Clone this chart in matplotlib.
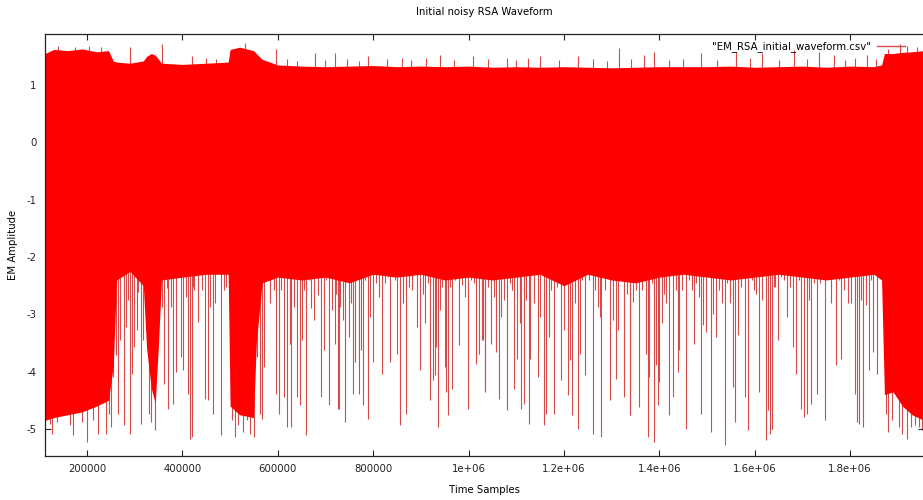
import numpy as np
import matplotlib.pyplot as plt

plt.rcParams['axes.unicode_minus'] = False

# solid part of the waveform: sample position, upper and lower edge
env_x = [111900, 130000, 160000, 190000, 220000, 245000, 255000, 262000, 290000,
         318000, 325000, 335000, 343000, 350000, 356000, 400000, 450000, 496000,
         500000, 520000, 549000, 555000, 567000, 600000, 650000, 700000, 750000,
         800000, 850000, 900000, 950000, 1000000, 1050000, 1100000, 1150000,
         1200000, 1250000, 1300000, 1350000, 1400000, 1450000, 1500000, 1550000,
         1600000, 1650000, 1700000, 1750000, 1800000, 1850000, 1866000, 1872000,
         1890000, 1910000, 1930000, 1955000]
env_top = [1.55, 1.62, 1.60, 1.63, 1.58, 1.60, 1.42, 1.40, 1.38,
           1.42, 1.50, 1.55, 1.52, 1.45, 1.38, 1.36, 1.38, 1.40,
           1.62, 1.66, 1.60, 1.55, 1.45, 1.35, 1.33, 1.32, 1.33,
           1.34, 1.32, 1.33, 1.32, 1.33, 1.31, 1.32, 1.31,
           1.32, 1.31, 1.30, 1.31, 1.32, 1.32, 1.32, 1.33,
           1.31, 1.32, 1.33, 1.31, 1.33, 1.32, 1.35, 1.55,
           1.55, 1.57, 1.58, 1.60]
env_bot = [-4.85, -4.80, -4.75, -4.70, -4.60, -4.50, -3.90, -2.40, -2.25,
           -2.50, -3.60, -4.30, -4.55, -3.50, -2.40, -2.35, -2.30, -2.30,
           -4.60, -4.75, -4.80, -3.50, -2.45, -2.35, -2.40, -2.35, -2.45,
           -2.30, -2.35, -2.30, -2.40, -2.35, -2.40, -2.35, -2.30,
           -2.50, -2.30, -2.40, -2.45, -2.35, -2.30, -2.35, -2.40,
           -2.35, -2.30, -2.35, -2.40, -2.35, -2.30, -2.40, -4.40,
           -4.35, -4.60, -4.75, -4.85]

# downward spikes: sample position and lowest value
spike_x = [122400, 125900, 136400, 146900, 159500, 164400, 171400, 180500, 188800, 194400,
           200700, 206300, 213300, 220300, 222400, 227300, 234300, 239200, 246200, 250400,
           255300, 260200, 265800, 269300, 278400, 281900, 285400, 290300, 295200, 299400,
           304300, 307800, 313400, 318300, 330100, 334300, 339200, 342700, 358100, 362300,
           367200, 370700, 376300, 381200, 386100, 391700, 397300, 402200, 407100, 412700,
           416200, 421100, 425300,
           419700, 423200, 433700, 440700, 447700, 454700, 458200, 463800, 468700, 475700,
           480600, 486200, 491700, 503600, 510600, 517600, 528100, 536500, 542100, 549100,
           556100, 561700, 566600, 571500, 575700, 584100, 591100, 596700, 601600, 606500,
           612100, 619100, 624700, 628200, 634400, 640000, 645600, 650500, 655400, 659600,
           664500, 669400, 676400, 683400, 690400, 696000, 701600, 706500, 713500, 719100,
           722600, 727500,
           726100, 731000, 735900, 740100, 748500, 753400, 756900, 762500, 769500, 775100,
           778600, 783500, 789100, 793900, 798800, 805800, 811400, 818400, 825400, 831000,
           835900, 840800, 846400, 850600, 856900, 861800, 868100, 875800, 881400, 891900,
           898900, 903800, 908000, 915000, 919900, 924800, 929000, 931700, 936000, 940800,
           944300, 949900, 952700, 956900, 961800, 965300, 970900, 979300, 986300, 991900,
           998900, 1005900, 1010800, 1015700, 1021300, 1028300, 1033900,
           1030400, 1034600, 1040200, 1047200, 1052800, 1058400, 1063300, 1068200, 1073800,
           1080800, 1086400, 1091300, 1096200, 1101700, 1107300, 1110100, 1115700, 1121300,
           1127600, 1129700, 1136700, 1145100, 1150700, 1159100, 1162600, 1168200, 1173100,
           1178700, 1185700, 1194100, 1199700, 1208100, 1212300, 1217900, 1224200, 1229100,
           1233300, 1238100, 1245100, 1252100, 1261200, 1266100, 1271000, 1275200, 1278700,
           1287100, 1296200, 1303200, 1310200, 1313700, 1320000, 1327000, 1332600, 1338200,
           1337500, 1344500, 1350100, 1357100, 1364100, 1372500, 1375300, 1378100, 1383700,
           1388600, 1393500, 1397000, 1399100, 1404600, 1409500, 1414400, 1420000, 1428400,
           1434000, 1438900, 1441000, 1448000, 1456400, 1462000, 1467600, 1472500, 1477400,
           1483000, 1487200, 1491400, 1498400, 1507500, 1512400, 1519400, 1525000, 1530600,
           1537600, 1542400, 1548000, 1554300, 1558500, 1565500, 1570400, 1579500, 1586500,
           1593500, 1598400, 1603300, 1608900, 1614500, 1622900, 1627100, 1631300, 1636900,
           1641100,
           1636900, 1641800, 1648800, 1654400, 1661400, 1668400, 1674000, 1681000, 1685900,
           1692900, 1697800, 1703400, 1708900, 1713800, 1717300, 1724300, 1731300, 1736900,
           1747400, 1752300, 1759300, 1764900, 1769800, 1776800, 1781700, 1787300, 1795700,
           1802700, 1809700, 1813900, 1818800, 1823700, 1827900, 1833500, 1839800, 1844600,
           1848800, 1855800, 1861400, 1867700, 1874700, 1879600, 1888700, 1902700, 1909700,
           1918800, 1927200, 1935600, 1944700, 1951700]
spike_y = [-4.905, -5.08, -4.876, -4.73, -4.468, -4.934, -5.108, -4.148, -4.876, -4.672,
           -5.225, -4.497, -4.846, -4.323, -5.079, -4.294, -4.206, -5.079, -4.73, -4.963,
           -4.09, -3.712, -4.73, -3.45, -4.934, -3.218, -2.752, -5.079, -4.032, -3.567,
           -3.276, -2.607, -4.905, -3.45, -4.73, -4.876, -4.265, -5.021, -2.868, -4.206,
           -2.548, -4.643, -2.868, -4.555, -4.003, -2.316, -3.741, -3.974, -2.694, -4.381,
           -5.166, -4.73, -2.578,
           -5.137, -2.519, -3.13, -2.578, -4.468, -4.497, -2.868, -4.73, -2.81, -2.287,
           -5.108, -2.578, -2.519, -4.846, -5.137, -4.934, -5.05, -4.846, -5.079, -5.137,
           -3.741, -4.73, -4.817, -3.916, -2.403, -2.81, -2.578, -4.381, -4.73, -2.578,
           -4.439, -4.963, -3.508, -4.963, -2.868, -4.439, -4.585, -3.45, -2.578, -5.108,
           -2.403, -2.897, -3.101, -2.665, -4.439, -3.625, -2.403, -4.585, -2.926, -3.508,
           -2.636, -4.643,
           -4.643, -2.868, -3.101, -4.876, -3.392, -2.81, -4.381, -3.828, -4.381, -3.625,
           -4.585, -2.403, -4.817, -3.043, -3.828, -2.461, -2.694, -4.032, -2.461, -2.345,
           -3.828, -2.345, -2.403, -3.683, -4.934, -2.81, -4.73, -2.519, -2.578, -3.218,
           -3.974, -2.636, -3.159, -2.461, -4.497, -4.148, -4.061, -3.567, -4.963, -2.926,
           -2.519, -3.916, -4.352, -4.759, -2.519, -4.294, -2.403, -3.537, -2.49, -2.694,
           -4.643, -2.403, -2.461, -3.857, -3.683, -3.45, -4.323,
           -3.45, -4.352, -2.519, -3.508, -2.694, -3.654, -4.468, -3.043, -2.752,
           -4.672, -2.461, -2.578, -4.294, -3.77, -3.159, -4.643, -4.555, -2.752,
           -4.905, -3.77, -2.81, -4.09, -3.043, -4.934, -4.73, -3.392, -2.578,
           -4.73, -2.519, -4.148, -3.276, -4.41, -3.799, -4.759, -2.81, -4.992,
           -3.683, -2.403, -4.061, -2.403, -5.079, -2.578, -2.868, -3.043, -5.137,
           -2.578, -4.497, -3.101, -4.119, -3.276, -2.287, -4.439, -2.636, -4.759,
           -4.759, -2.781, -2.578, -4.614, -2.578, -3.683, -5.137, -4.09, -2.461,
           -5.225, -3.886, -4.585, -4.177, -3.159, -2.636, -2.81, -4.759, -4.439,
           -2.578, -4.003, -3.625, -2.578, -4.992, -2.403, -2.578, -3.508, -2.461,
           -2.694, -4.73, -3.188, -3.305, -5.05, -2.985, -3.392, -2.578, -2.81,
           -5.283, -2.461, -2.81, -4.265, -4.876, -3.363, -2.519, -4.439, -5.021,
           -2.403, -2.578, -2.636, -4.352, -2.752, -5.195, -4.672, -5.079, -4.992,
           -2.519,
           -4.992, -2.519, -3.45, -2.345, -2.403, -3.043, -2.519, -3.567, -4.032,
           -2.403, -4.643, -4.788, -4.73, -2.752, -4.555, -2.461, -4.381, -2.461,
           -4.846, -2.287, -2.81, -2.287, -3.886, -2.403, -3.77, -2.578, -2.81,
           -2.81, -4.381, -4.876, -4.905, -2.752, -4.963, -2.839, -3.974, -2.403,
           -3.654, -4.032, -2.229, -2.403, -4.73, -5.05, -4.846, -4.963, -5.079,
           -5.166, -4.963, -4.934, -4.963, -5.021]

# upward spikes above the top edge
up_x = [140000, 175000, 205000, 230000, 290300, 356800, 420000, 450000, 470000,
        531600, 596700, 620000, 640000, 678500, 700000, 720000, 745000, 770000,
        790000, 830000, 860000, 880000, 910000, 940000, 970000, 1010000, 1040000,
        1080000, 1100000, 1125000, 1150000, 1190000, 1230000, 1260000, 1290000,
        1315100, 1340000, 1367500, 1388500, 1420000, 1450000, 1486500, 1520000,
        1559900, 1590000, 1615900, 1650000, 1682300, 1710000, 1734800, 1766200,
        1790000, 1810000, 1836200, 1855000, 1880000, 1905000, 1920000, 1940000]
up_y = [1.68, 1.66, 1.68, 1.66, 1.67, 1.72, 1.50, 1.48, 1.45,
        1.74, 1.63, 1.45, 1.42, 1.55, 1.44, 1.55, 1.46, 1.42,
        1.50, 1.45, 1.48, 1.43, 1.47, 1.52, 1.44, 1.50, 1.45,
        1.47, 1.43, 1.47, 1.50, 1.44, 1.50, 1.46, 1.42,
        1.64, 1.45, 1.52, 1.58, 1.44, 1.46, 1.55, 1.44,
        1.58, 1.47, 1.55, 1.43, 1.61, 1.46, 1.58, 1.52,
        1.44, 1.47, 1.52, 1.45, 1.62, 1.72, 1.68, 1.66]

line_col = '#d84a4a'
fs = 7.3

fig = plt.figure(figsize=(9.23, 5.0), dpi=100)
ax = fig.add_axes([45 / 923, 44 / 500, 879 / 923, 422 / 500])

ax.vlines(spike_x, spike_y, 0, color=line_col, linewidth=0.8, zorder=1)
ax.vlines(up_x, 0, up_y, color=line_col, linewidth=0.8, zorder=1)
ax.fill_between(env_x, env_bot, env_top, color='red', linewidth=0, zorder=2)
ax.plot([], [], color=line_col, linewidth=1, label='"EM_RSA_initial_waveform.csv"')

ax.set_xlim(111900, 1955000)
ax.set_ylim(-5.47, 1.89)
ax.set_xticks([200000, 400000, 600000, 800000, 1000000, 1200000, 1400000, 1600000, 1800000])
ax.set_xticklabels(['200000', '400000', '600000', '800000', '1e+06', '1.2e+06',
                    '1.4e+06', '1.6e+06', '1.8e+06'])
ax.set_yticks([-5, -4, -3, -2, -1, 0, 1])
ax.tick_params(direction='in', length=4, width=0.8, top=True, right=True,
               labelsize=fs, colors='#222222', pad=6)

for s in ax.spines.values():
    s.set_linewidth(0.9)
    s.set_color('#222222')

ax.set_title('Initial noisy RSA Waveform', fontsize=fs, pad=14)
ax.set_xlabel('Time Samples', fontsize=fs, labelpad=8)
ax.set_ylabel('EM Amplitude', fontsize=fs, labelpad=6)

ax.legend(loc='upper right', bbox_to_anchor=(1 - 12 / 879, 1), frameon=False,
          fontsize=fs, markerfirst=False, handlelength=2.8, handletextpad=0.5,
          borderaxespad=0.3)

fig.savefig('out.png', dpi=100)
